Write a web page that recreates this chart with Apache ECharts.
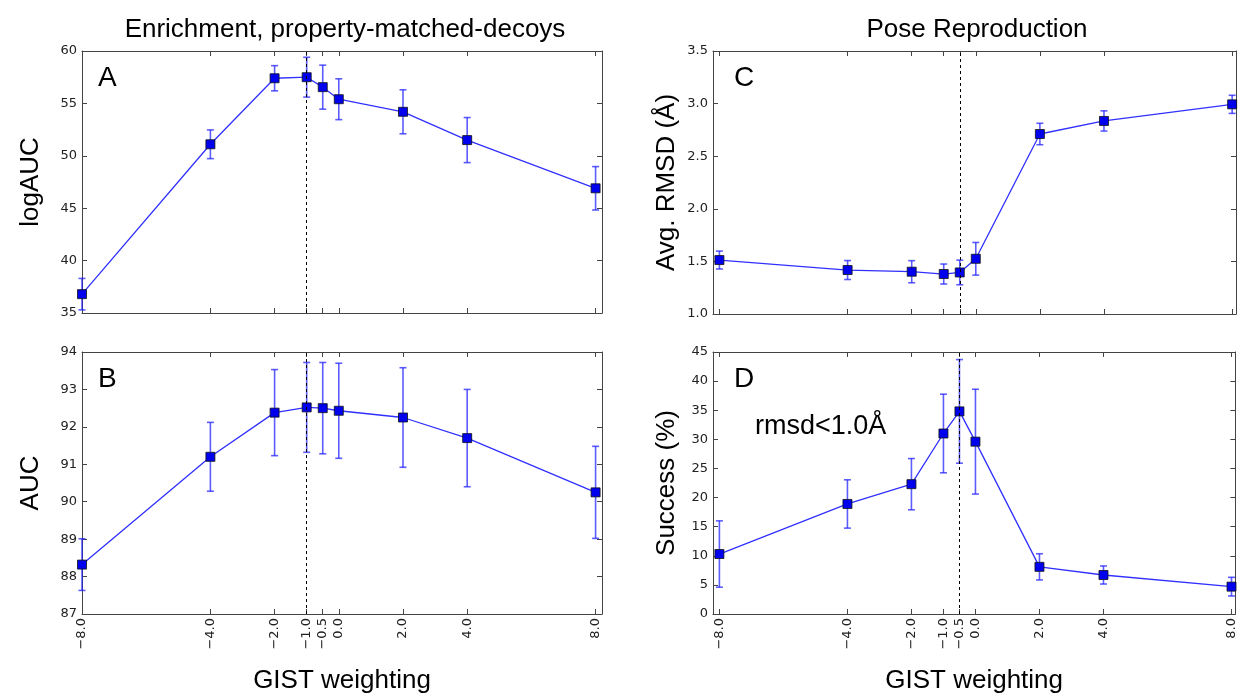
<!DOCTYPE html>
<html>
<head>
    <meta charset="utf-8"/>
    <script src="https://cdn.jsdelivr.net/npm/echarts@6/dist/echarts.min.js"></script>
</head>
<body style="margin:0;background:#fff">
<div id="main" style="width: 1238px;height:698px;"></div>
<script type="text/javascript">
    // GIST weighting values (x) and the tick positions shown
    var gistWeights = [-8, -4, -2, -1, -0.5, 0, 2, 4, 8];
    var xTickValues = [-8, -4, -2, -1, -0.5, 0, 2, 4, 8];

    // A: logAUC, property-matched decoys
    var logAUC = [36.8, 51.1, 57.4, 57.5, 56.55, 55.4, 54.2, 51.5, 46.9];
    var logAUCErr = [1.5, 1.37, 1.2, 1.9, 2.1, 1.95, 2.1, 2.15, 2.07];
    // B: AUC
    var aucValues = [88.32, 91.2, 92.38, 92.52, 92.5, 92.43, 92.25, 91.7, 90.25];
    var aucErr = [0.69, 0.92, 1.15, 1.2, 1.22, 1.27, 1.33, 1.3, 1.23];
    // C: average RMSD (Å)
    var rmsdValues = [1.513, 1.418, 1.402, 1.38, 1.395, 1.525, 2.711, 2.835, 2.993];
    var rmsdErr = [0.085, 0.09, 0.105, 0.095, 0.117, 0.155, 0.102, 0.096, 0.086];
    // D: success rate (%), rmsd < 1.0 Å
    var successValues = [10.3, 18.9, 22.3, 31.0, 34.8, 29.6, 8.1, 6.7, 4.7];
    var successErr = [5.7, 4.15, 4.4, 6.75, 8.9, 9.0, 2.25, 1.55, 1.6];

    var bigFont = '"Liberation Sans", Arial, sans-serif';
    var tickFont = '"DejaVu Sans", sans-serif';
    var frameColor = '#444';

    var panels = [
        {grid: {left: 82, top: 51, width: 520, height: 262}, xMin: -8, xMax: 8.2, xName: '',
            yMin: 35, yMax: 60, yStep: 5, yDec: 0, yName: 'logAUC', yGap: 38,
            vals: logAUC, errs: logAUCErr, dash: -1},
        {grid: {left: 82, top: 352, width: 520, height: 262}, xMin: -8, xMax: 8.2, xName: 'GIST weighting',
            yMin: 87, yMax: 94, yStep: 1, yDec: 0, yName: 'AUC', yGap: 38,
            vals: aucValues, errs: aucErr, dash: -1},
        {grid: {left: 713, top: 51, width: 523, height: 263}, xMin: -8.2, xMax: 8.12, xName: '',
            yMin: 1, yMax: 3.5, yStep: 0.5, yDec: 1, yName: 'Avg. RMSD (Å)', yGap: 33,
            vals: rmsdValues, errs: rmsdErr, dash: -0.5},
        {grid: {left: 713, top: 352, width: 523, height: 262}, xMin: -8.2, xMax: 8.12, xName: 'GIST weighting',
            yMin: 0, yMax: 45, yStep: 5, yDec: 0, yName: 'Success (%)', yGap: 33,
            vals: successValues, errs: successErr, dash: -0.5}
    ];

    function fmtX(v) {
        return v.toFixed(1).replace('-', '\u2212');
    }

    var grids = [], xAxes = [], yAxes = [], series = [];

    panels.forEach(function (p, i) {
        grids.push(p.grid);
        var lineSt = {show: true, onZero: false, lineStyle: {color: frameColor, width: 1}};
        var tickSt = {show: true, inside: true, length: 5, customValues: xTickValues,
            lineStyle: {color: frameColor}};
        // bottom x axis (with labels)
        xAxes.push({
            type: 'value', gridIndex: i, position: 'bottom', min: p.xMin, max: p.xMax,
            splitLine: {show: false}, axisLine: lineSt, axisTick: tickSt,
            axisLabel: {
                show: p.xName !== '', customValues: xTickValues, rotate: 90, margin: 4,
                formatter: fmtX, color: '#222', fontSize: 13, fontFamily: tickFont
            },
            name: p.xName, nameLocation: 'middle', nameGap: 54,
            nameTextStyle: {fontSize: 26, fontFamily: bigFont, color: '#000'}
        });
        // top x axis (frame + ticks only)
        xAxes.push({
            type: 'value', gridIndex: i, position: 'top', min: p.xMin, max: p.xMax,
            splitLine: {show: false}, axisLine: lineSt, axisTick: tickSt,
            axisLabel: {show: false}
        });
        var yTick = {show: true, inside: true, length: 5, lineStyle: {color: frameColor}};
        yAxes.push({
            type: 'value', gridIndex: i, position: 'left', min: p.yMin, max: p.yMax, interval: p.yStep,
            splitLine: {show: false}, axisLine: lineSt, axisTick: yTick,
            axisLabel: {
                color: '#222', fontSize: 13, fontFamily: tickFont, margin: 5,
                formatter: function (v) { return v.toFixed(p.yDec); }
            },
            name: p.yName, nameLocation: 'middle', nameGap: p.yGap, nameRotate: 90,
            nameTextStyle: {fontSize: 26, fontFamily: bigFont, color: '#000'}
        });
        yAxes.push({
            type: 'value', gridIndex: i, position: 'right', min: p.yMin, max: p.yMax, interval: p.yStep,
            splitLine: {show: false}, axisLine: lineSt, axisTick: yTick,
            axisLabel: {show: false}
        });

        var pts = [], bars = [];
        for (var k = 0; k < gistWeights.length; k++) {
            pts.push([gistWeights[k], p.vals[k]]);
            bars.push([gistWeights[k], p.vals[k] - p.errs[k], p.vals[k] + p.errs[k]]);
        }

        // error bars with caps
        series.push({
            type: 'custom', xAxisIndex: i * 2, yAxisIndex: i * 2, data: bars, z: 2,
            renderItem: function (params, api) {
                var lo = api.coord([api.value(0), api.value(1)]);
                var hi = api.coord([api.value(0), api.value(2)]);
                var c = 3.5;
                var st = {stroke: 'rgba(30,30,255,0.72)', lineWidth: 1.6};
                return {
                    type: 'group', children: [
                        {type: 'line', shape: {x1: lo[0], y1: lo[1], x2: hi[0], y2: hi[1]}, style: st},
                        {type: 'line', shape: {x1: lo[0] - c, y1: lo[1], x2: lo[0] + c, y2: lo[1]}, style: st},
                        {type: 'line', shape: {x1: hi[0] - c, y1: hi[1], x2: hi[0] + c, y2: hi[1]}, style: st}
                    ]
                };
            }
        });

        series.push({
            type: 'line', xAxisIndex: i * 2, yAxisIndex: i * 2, data: pts, z: 3,
            symbol: 'rect', symbolSize: 9,
            lineStyle: {color: '#3030ff', width: 1.3},
            itemStyle: {color: '#0000ee', borderColor: '#111', borderWidth: 0.8},
            markLine: {
                silent: true, symbol: 'none', label: {show: false},
                lineStyle: {color: '#000', type: [3, 3], width: 1},
                data: [{xAxis: p.dash}]
            }
        });
    });

    var myChart = echarts.init(document.getElementById('main'));
    var option = {
        animation: false,
        title: [
            {text: 'Enrichment, property-matched-decoys', left: 340, top: 12, textAlign: 'center',
                textStyle: {fontSize: 26, fontWeight: 'normal', fontFamily: bigFont, color: '#000'}},
            {text: 'Pose Reproduction', left: 972, top: 12, textAlign: 'center',
                textStyle: {fontSize: 26, fontWeight: 'normal', fontFamily: bigFont, color: '#000'}}
        ],
        graphic: [
            {type: 'text', left: 98, top: 64, style: {text: 'A', fontSize: 28, fontFamily: bigFont, fill: '#000'}},
            {type: 'text', left: 98, top: 365, style: {text: 'B', fontSize: 28, fontFamily: bigFont, fill: '#000'}},
            {type: 'text', left: 734, top: 64, style: {text: 'C', fontSize: 28, fontFamily: bigFont, fill: '#000'}},
            {type: 'text', left: 734, top: 365, style: {text: 'D', fontSize: 28, fontFamily: bigFont, fill: '#000'}},
            {type: 'text', left: 755, top: 413, style: {text: 'rmsd<1.0Å', fontSize: 27, fontFamily: bigFont, fill: '#000'}}
        ],
        grid: grids,
        xAxis: xAxes,
        yAxis: yAxes,
        series: series
    };
    myChart.setOption(option);
</script>
</body>
</html>
